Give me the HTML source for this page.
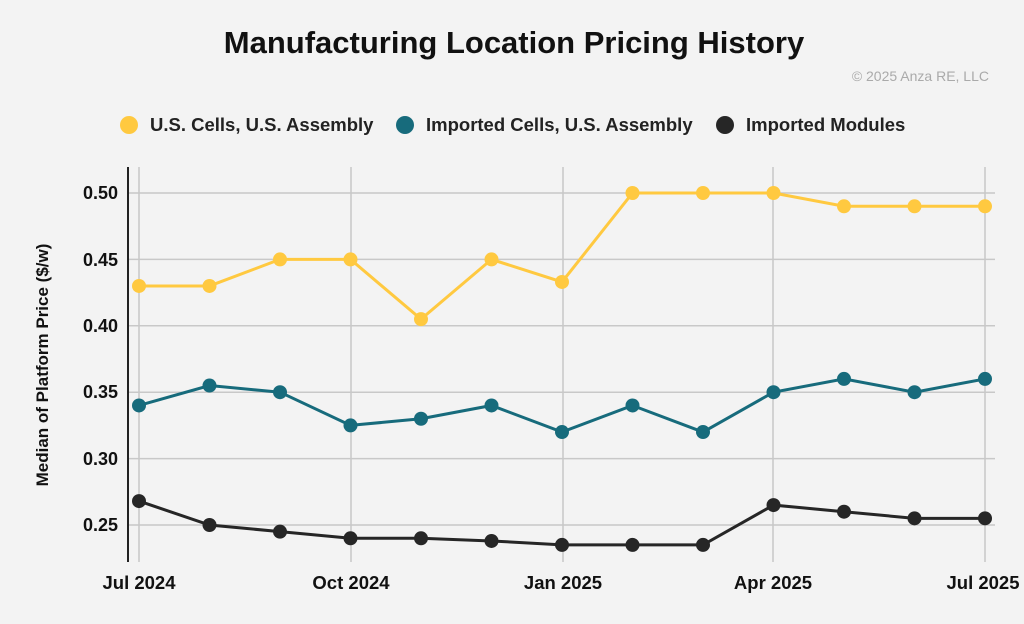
<!DOCTYPE html>
<html><head><meta charset="utf-8"><style>
body{margin:0;background:#f3f3f3;}
svg{display:block;font-family:"Liberation Sans",Arial,sans-serif;}
</style></head><body>
<svg width="1024" height="624" viewBox="0 0 1024 624">
<rect width="1024" height="624" fill="#f3f3f3"/>
<text x="514" y="53" text-anchor="middle" font-size="31" font-weight="bold" fill="#111">Manufacturing Location Pricing History</text>
<text x="989" y="81" text-anchor="end" font-size="14" fill="#aaa">© 2025 Anza RE, LLC</text>
<circle cx="129" cy="125" r="9" fill="#ffc940"/>
<text x="150" y="131" font-size="18.5" font-weight="bold" fill="#222">U.S. Cells, U.S. Assembly</text>
<circle cx="405" cy="125" r="9" fill="#176b7c"/>
<text x="426" y="131" font-size="18.5" font-weight="bold" fill="#222">Imported Cells, U.S. Assembly</text>
<circle cx="725" cy="125" r="9" fill="#262626"/>
<text x="746" y="131" font-size="18.5" font-weight="bold" fill="#222">Imported Modules</text>
<g stroke="#c8c8c8" stroke-width="1.5">
<line x1="128" x2="995" y1="193" y2="193"/>
<line x1="128" x2="995" y1="259.4" y2="259.4"/>
<line x1="128" x2="995" y1="325.8" y2="325.8"/>
<line x1="128" x2="995" y1="392.2" y2="392.2"/>
<line x1="128" x2="995" y1="458.6" y2="458.6"/>
<line x1="128" x2="995" y1="525" y2="525"/>
<line x1="139" x2="139" y1="167" y2="562"/>
<line x1="351" x2="351" y1="167" y2="562"/>
<line x1="563" x2="563" y1="167" y2="562"/>
<line x1="773" x2="773" y1="167" y2="562"/>
<line x1="985" x2="985" y1="167" y2="562"/>
</g>
<line x1="128" x2="128" y1="167" y2="562" stroke="#222" stroke-width="2"/>
<g font-size="18" font-weight="bold" fill="#111" text-anchor="end">
<text x="118" y="199">0.50</text><text x="118" y="266">0.45</text><text x="118" y="332">0.40</text>
<text x="118" y="398">0.35</text><text x="118" y="465">0.30</text><text x="118" y="531">0.25</text>
</g>
<g font-size="18.5" font-weight="bold" fill="#111" text-anchor="middle">
<text x="139" y="589">Jul 2024</text><text x="351" y="589">Oct 2024</text><text x="563" y="589">Jan 2025</text>
<text x="773" y="589">Apr 2025</text><text x="983" y="589">Jul 2025</text>
</g>
<text transform="translate(48,365) rotate(-90)" text-anchor="middle" font-size="17" font-weight="bold" fill="#111">Median of Platform Price ($/w)</text>

<polyline fill="none" stroke="#ffc940" stroke-width="3" points="139,285.96 209.5,285.96 280,259.4 350.5,259.4 421,319.16 491.5,259.4 562,281.98 632.5,193 703,193 773.5,193 844,206.28 914.5,206.28 985,206.28"/>
<g fill="#ffc940">
<circle cx="139" cy="285.96" r="7"/><circle cx="209.5" cy="285.96" r="7"/><circle cx="280" cy="259.4" r="7"/><circle cx="350.5" cy="259.4" r="7"/><circle cx="421" cy="319.16" r="7"/><circle cx="491.5" cy="259.4" r="7"/><circle cx="562" cy="281.98" r="7"/><circle cx="632.5" cy="193" r="7"/><circle cx="703" cy="193" r="7"/><circle cx="773.5" cy="193" r="7"/><circle cx="844" cy="206.28" r="7"/><circle cx="914.5" cy="206.28" r="7"/><circle cx="985" cy="206.28" r="7"/>
</g>

<polyline fill="none" stroke="#176b7c" stroke-width="3" points="139,405.48 209.5,385.56 280,392.2 350.5,425.4 421,418.76 491.5,405.48 562,432.04 632.5,405.48 703,432.04 773.5,392.2 844,378.92 914.5,392.2 985,378.92"/>
<g fill="#176b7c">
<circle cx="139" cy="405.48" r="7"/><circle cx="209.5" cy="385.56" r="7"/><circle cx="280" cy="392.2" r="7"/><circle cx="350.5" cy="425.4" r="7"/><circle cx="421" cy="418.76" r="7"/><circle cx="491.5" cy="405.48" r="7"/><circle cx="562" cy="432.04" r="7"/><circle cx="632.5" cy="405.48" r="7"/><circle cx="703" cy="432.04" r="7"/><circle cx="773.5" cy="392.2" r="7"/><circle cx="844" cy="378.92" r="7"/><circle cx="914.5" cy="392.2" r="7"/><circle cx="985" cy="378.92" r="7"/>
</g>

<polyline fill="none" stroke="#262626" stroke-width="3" points="139,501.1 209.5,525 280,531.64 350.5,538.28 421,538.28 491.5,540.94 562,544.92 632.5,544.92 703,544.92 773.5,505.08 844,511.72 914.5,518.36 985,518.36"/>
<g fill="#262626">
<circle cx="139" cy="501.1" r="7"/><circle cx="209.5" cy="525" r="7"/><circle cx="280" cy="531.64" r="7"/><circle cx="350.5" cy="538.28" r="7"/><circle cx="421" cy="538.28" r="7"/><circle cx="491.5" cy="540.94" r="7"/><circle cx="562" cy="544.92" r="7"/><circle cx="632.5" cy="544.92" r="7"/><circle cx="703" cy="544.92" r="7"/><circle cx="773.5" cy="505.08" r="7"/><circle cx="844" cy="511.72" r="7"/><circle cx="914.5" cy="518.36" r="7"/><circle cx="985" cy="518.36" r="7"/>
</g>
</svg>
</body></html>
